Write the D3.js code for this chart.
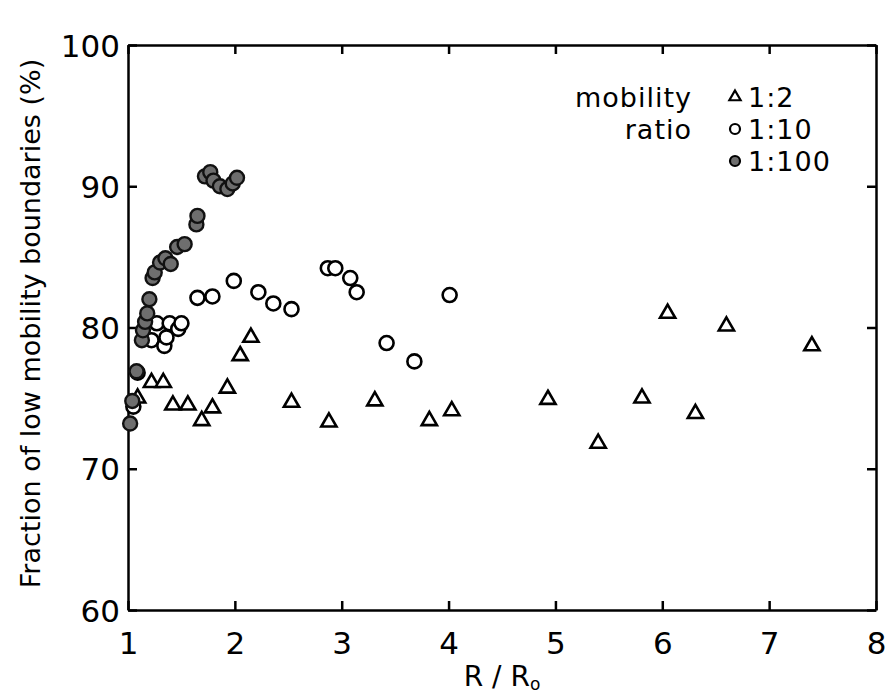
<!DOCTYPE html>
<html>
<head>
<meta charset="utf-8">
<script src="https://cdn.jsdelivr.net/npm/d3@7"></script>
<style>
  body { margin: 0; background: #fff; }
  text { font-family: "DejaVu Sans", sans-serif; fill: #000; }
</style>
</head>
<body>
<div id="container"></div>
<script>
// mobility ratio 1:2 (open triangles)
const ratio2 = [
  [1.09, 75.0], [1.22, 76.1], [1.33, 76.1], [1.42, 74.5], [1.56, 74.5], [1.69, 73.4],
  [1.79, 74.3], [1.93, 75.7], [2.05, 78.0], [2.15, 79.3], [2.53, 74.7], [2.88, 73.3],
  [3.31, 74.8], [3.82, 73.4], [4.03, 74.1], [4.93, 74.9], [5.40, 71.8], [5.81, 75.0],
  [6.05, 81.0], [6.31, 73.9], [6.60, 80.1], [7.40, 78.7]
]
// mobility ratio 1:10 (open circles)
const ratio10 = [
  [1.05, 74.4], [1.09, 76.8], [1.22, 79.1], [1.27, 80.3], [1.34, 78.7], [1.36, 79.3],
  [1.39, 80.3], [1.47, 79.9], [1.50, 80.3], [1.65, 82.1], [1.79, 82.2], [1.99, 83.3],
  [2.22, 82.5], [2.36, 81.7], [2.53, 81.3], [2.87, 84.2], [2.94, 84.2], [3.08, 83.5],
  [3.14, 82.5], [3.42, 78.9], [3.68, 77.6], [4.01, 82.3]
]
// mobility ratio 1:100 (filled circles)
const ratio100 = [
  [1.02, 73.2], [1.04, 74.8], [1.08, 76.9], [1.13, 79.1], [1.14, 79.8], [1.16, 80.4],
  [1.18, 81.0], [1.20, 82.0], [1.23, 83.5], [1.25, 83.9], [1.30, 84.6], [1.35, 84.9],
  [1.40, 84.5], [1.46, 85.7], [1.53, 85.9], [1.64, 87.3], [1.65, 87.9], [1.72, 90.7],
  [1.77, 91.0], [1.80, 90.4], [1.86, 90.0], [1.93, 89.8], [1.98, 90.2], [2.02, 90.6]
]
const xTicks = [1, 2, 3, 4, 5, 6, 7, 8]
const yTicks = [60, 70, 80, 90, 100]
const legendLabels = ['1:2', '1:10', '1:100']

const width = 889, height = 700
const margin = { left: 128, right: 13, top: 45, bottom: 90 }

const svg = d3.select('#container').append('svg')
  .attr('width', width).attr('height', height)

const x = d3.scaleLinear().domain([1, 8]).range([margin.left, width - margin.right])
const y = d3.scaleLinear().domain([60, 100]).range([height - margin.bottom, margin.top])

const tickLen = 9
const axisG = svg.append('g')

// inward ticks on all four sides, labels only left and bottom
const bottomAxis = axisG.append('g').attr('transform', `translate(0,${y(60)})`)
  .call(d3.axisBottom(x).tickValues(xTicks).tickSizeInner(-tickLen).tickSizeOuter(0).tickPadding(22).tickFormat(d3.format('d')))
axisG.append('g').attr('transform', `translate(0,${y(100)})`)
  .call(d3.axisTop(x).tickValues(xTicks).tickSizeInner(-tickLen).tickSizeOuter(0).tickFormat(''))
const leftAxis = axisG.append('g').attr('transform', `translate(${x(1)},0)`)
  .call(d3.axisLeft(y).tickValues(yTicks).tickSizeInner(-tickLen).tickSizeOuter(0).tickPadding(8))
axisG.append('g').attr('transform', `translate(${x(8)},0)`)
  .call(d3.axisRight(y).tickValues(yTicks).tickSizeInner(-tickLen).tickSizeOuter(0).tickFormat(''))

axisG.selectAll('.domain, .tick line').attr('stroke', '#000').attr('stroke-width', 2.5)
axisG.selectAll('.tick text').style('font-size', '31px').attr('fill', '#000')
bottomAxis.selectAll('.tick text').attr('dy', '0.71em')
leftAxis.selectAll('.tick text').attr('dy', '0.36em')

// axis titles
svg.append('text')
  .attr('x', (x(1) + x(8)) / 2).attr('y', 686)
  .attr('text-anchor', 'middle').style('font-size', '28px')
  .html('R / R<tspan font-size="17px" dy="4">o</tspan>')

svg.append('text')
  .attr('transform', `translate(40,${(y(60) + y(100)) / 2 - 4}) rotate(-90)`)
  .attr('text-anchor', 'middle').style('font-size', '27px')
  .text('Fraction of low mobility boundaries (%)')

// markers
const tri = d3.symbol().type(d3.symbolTriangle).size(100)
const plot = svg.append('g')

plot.selectAll('.m2').data(ratio2).enter().append('path')
  .attr('class', 'm2')
  .attr('transform', d => `translate(${x(d[0])},${y(d[1])})`)
  .attr('d', tri)
  .attr('fill', '#fff').attr('stroke', '#000').attr('stroke-width', 2.6)

plot.selectAll('.m10').data(ratio10).enter().append('circle')
  .attr('class', 'm10')
  .attr('cx', d => x(d[0])).attr('cy', d => y(d[1])).attr('r', 7)
  .attr('fill', '#fff').attr('stroke', '#000').attr('stroke-width', 2.6)

plot.selectAll('.m100').data(ratio100).enter().append('circle')
  .attr('class', 'm100')
  .attr('cx', d => x(d[0])).attr('cy', d => y(d[1])).attr('r', 7)
  .attr('fill', '#6e6e6e').attr('stroke', '#111').attr('stroke-width', 2.4)

// legend
const lg = svg.append('g')
lg.append('text').attr('x', 692).attr('y', 107).attr('text-anchor', 'end')
  .style('font-size', '27px').style('letter-spacing', '1px').text('mobility')
lg.append('text').attr('x', 692).attr('y', 139).attr('text-anchor', 'end')
  .style('font-size', '27px').style('letter-spacing', '1px').text('ratio')

const legendY = [97, 129, 161]
legendLabels.forEach((lab, i) => {
  const cx = 735, cy = legendY[i]
  if (i === 0) {
    lg.append('path').attr('transform', `translate(${cx},${cy})`)
      .attr('d', d3.symbol().type(d3.symbolTriangle).size(55))
      .attr('fill', '#fff').attr('stroke', '#000').attr('stroke-width', 2.2)
  } else {
    lg.append('circle').attr('cx', cx).attr('cy', cy).attr('r', 5)
      .attr('fill', i === 2 ? '#6e6e6e' : '#fff').attr('stroke', '#000').attr('stroke-width', 2.2)
  }
  lg.append('text').attr('x', 748).attr('y', cy + 10).style('font-size', '27px')
    .style('letter-spacing', '1px').text(lab)
})
</script>
</body>
</html>
